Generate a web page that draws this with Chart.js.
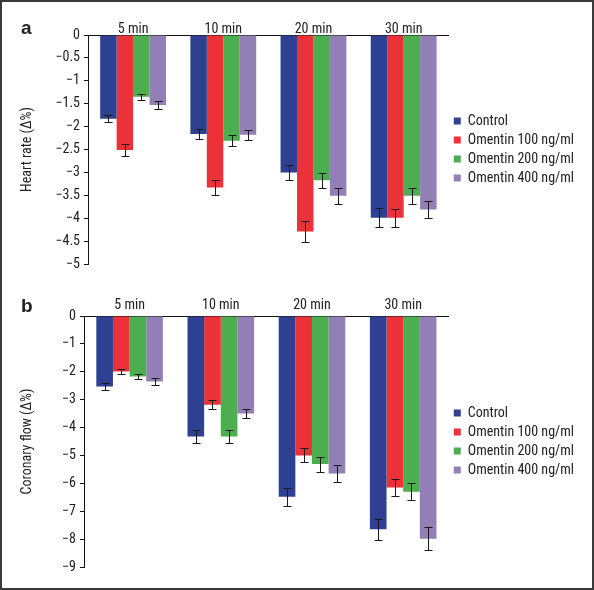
<!DOCTYPE html>
<html>
<head>
<meta charset="utf-8">
<script src="https://cdn.jsdelivr.net/npm/chart.js@4.4.0/dist/chart.umd.min.js"></script>
<style>
  html, body { margin: 0; padding: 0; background: #fff; }
  body { position: relative; width: 594px; height: 590px; overflow: hidden; }
  .panel { position: absolute; left: 0; width: 594px; }
  #panelA { top: 0; height: 290px; }
  #panelB { top: 290px; height: 300px; }
  .letter { position: absolute; left: 21px; font: bold 19px "Liberation Sans", Arial, sans-serif; color: #222; }
  #frame { position: absolute; left: 0; top: 0; width: 594px; height: 590px; box-sizing: border-box;
           border: 2px solid #3a3a3a; pointer-events: none; }
</style>
</head>
<body>
<div class="panel" id="panelA"><canvas id="chartA"></canvas></div>
<div class="panel" id="panelB"><canvas id="chartB"></canvas></div>
<div class="letter" style="top:17px">a</div>
<div class="letter" style="top:295px">b</div>
<div id="frame"></div>
<script>
const categories = ['5 min', '10 min', '20 min', '30 min'];
const seriesNames = ['Control', 'Omentin 100 ng/ml', 'Omentin 200 ng/ml', 'Omentin 400 ng/ml'];
const seriesColors = ['#2e4091', '#ea3238', '#4cae4f', '#927fb5'];

// a: heart rate (Δ%)
const hrControl = [-1.83, -2.16, -3.00, -3.99];
const hr100     = [-2.51, -3.33, -4.29, -3.99];
const hr200     = [-1.35, -2.31, -3.17, -3.51];
const hr400     = [-1.53, -2.18, -3.51, -3.81];
const hrControlErr = [0.08, 0.11, 0.16, 0.21];
const hr100Err     = [0.13, 0.16, 0.22, 0.20];
const hr200Err     = [0.06, 0.12, 0.16, 0.18];
const hr400Err     = [0.08, 0.11, 0.17, 0.18];

// b: coronary flow (Δ%)
const cfControl = [-2.53, -4.32, -6.48, -7.65];
const cf100     = [-1.99, -3.18, -5.00, -6.15];
const cf200     = [-2.17, -4.32, -5.31, -6.30];
const cf400     = [-2.35, -3.50, -5.65, -7.99];
const cfControlErr = [0.12, 0.22, 0.32, 0.37];
const cf100Err     = [0.10, 0.16, 0.25, 0.30];
const cf200Err     = [0.10, 0.22, 0.27, 0.30];
const cf400Err     = [0.12, 0.17, 0.30, 0.41];

const FONT = '"Roboto Condensed", "DejaVu Sans Condensed", sans-serif';
const INK = '#222';

const errorBars = {
  id: 'errorBars',
  afterDatasetsDraw(chart) {
    const ctx = chart.ctx;
    const yScale = chart.scales.y;
    ctx.save();
    ctx.strokeStyle = '#1a1a1a';
    ctx.lineWidth = 1;
    chart.data.datasets.forEach((ds, i) => {
      chart.getDatasetMeta(i).data.forEach((bar, j) => {
        const v = ds.data[j], e = ds.errors[j];
        const x = Math.round(bar.x) + 0.5;
        const yLo = Math.round(yScale.getPixelForValue(v - e)) + 0.5;
        const yHi = Math.round(yScale.getPixelForValue(v + e)) + 0.5;
        ctx.beginPath();
        ctx.moveTo(x, yLo); ctx.lineTo(x, yHi);
        ctx.moveTo(x - 4, yLo); ctx.lineTo(x + 4, yLo);
        ctx.moveTo(x - 4, yHi); ctx.lineTo(x + 4, yHi);
        ctx.stroke();
      });
    });
    ctx.restore();
  }
};

function makeDatasets(values, errors) {
  return values.map((data, i) => ({
    label: seriesNames[i],
    data,
    errors: errors[i],
    backgroundColor: seriesColors[i],
    borderWidth: 0,
    categoryPercentage: 0.73,
    barPercentage: 1.0,
  }));
}

function buildChart(id, cfg) {
  return new Chart(document.getElementById(id), {
    type: 'bar',
    data: { labels: categories, datasets: makeDatasets(cfg.values, cfg.errors) },
    plugins: [errorBars],
    options: {
      responsive: true,
      maintainAspectRatio: false,
      animation: false,
      layout: { padding: { top: 0, left: 0, right: cfg.padRight, bottom: cfg.padBottom } },
      plugins: {
        tooltip: { enabled: false },
        legend: {
          position: 'right',
          fullSize: false,
          labels: {
            boxWidth: 7, boxHeight: 7, padding: 5,
            color: INK, font: { family: FONT, size: 14 }
          }
        }
      },
      scales: {
        x: {
          position: 'top',
          afterFit: s => { s.height = cfg.xHeight; },
          grid: { display: false, drawTicks: false },
          border: { display: true, color: '#111', width: 1 },
          ticks: { color: INK, padding: cfg.xPad, font: { family: FONT, size: 14 } }
        },
        y: {
          min: cfg.min, max: 0,
          afterFit: s => { s.width = cfg.yWidth; },
          grid: { drawOnChartArea: false, drawTicks: true, tickLength: 4, color: '#111' },
          border: { display: true, color: '#111', width: 1 },
          ticks: {
            stepSize: cfg.step, color: INK, padding: 4, font: { family: FONT, size: 14 },
            callback: v => v === 0 ? '0' : '\u2212' + Math.abs(v)
          },
          title: {
            display: true, text: cfg.title, color: INK,
            font: { family: FONT, size: 14 }, padding: { top: 19, bottom: 0 }
          }
        }
      }
    }
  });
}

buildChart('chartA', {
  values: [hrControl, hr100, hr200, hr400],
  errors: [hrControlErr, hr100Err, hr200Err, hr400Err],
  min: -5, step: 0.5, title: 'Heart rate (\u0394%)',
  xHeight: 35, xPad: -3, yWidth: 88, padRight: 10, padBottom: 26
});

buildChart('chartB', {
  values: [cfControl, cf100, cf200, cf400],
  errors: [cfControlErr, cf100Err, cf200Err, cf400Err],
  min: -9, step: 1, title: 'Coronary flow (\u0394%)',
  xHeight: 26, xPad: 2, yWidth: 84, padRight: 10, padBottom: 23
});
</script>
</body>
</html>
